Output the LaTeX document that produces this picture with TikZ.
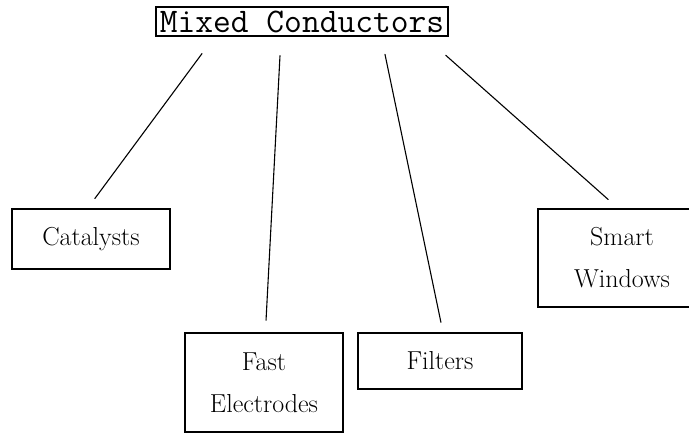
\documentclass[tikz,border=0pt]{standalone}
\usepackage{fontspec}
\usepackage{tikz}

\begin{document}
\begin{tikzpicture}[x=1pt, y=-1pt, line cap=round,
    box/.style={draw, line width=1.6pt, inner sep=0pt, align=center,
                font=\fontsize{26}{42}\selectfont},
    link/.style={line width=1.1pt}]
    \useasboundingbox (0,0) rectangle (689,433);

    % heading
    \node[draw, line width=1.4pt, inner sep=0pt, minimum width=292, minimum height=29,
          font=\ttfamily\fontsize{34.5}{34.5}\selectfont] (mc) at (302,21.5) {Mixed Conductors};

    % applications
    \node[box, minimum width=158, minimum height=60] (cat) at (91,239) {Catalysts};
    \node[box, minimum width=158, minimum height=99] (fast) at (264,382.5) {Fast\\Electrodes};
    \node[box, minimum width=164, minimum height=56] (filt) at (440,361) {Filters};
    \node[box, minimum width=168, minimum height=98] (smart) at (622,258) {Smart\\Windows};

    % branches, left loose at both ends
    \draw[link, shorten <=21pt, shorten >=12pt] ([xshift=-87.5pt]mc.south) -- ([xshift=-3.3pt]cat.north);
    \draw[link, shorten <=19pt, shorten >=12pt] ([xshift=-21pt]mc.south) -- ([xshift=1.4pt]fast.north);
    \draw[link, shorten <=18pt, shorten >=10pt] ([xshift=79.3pt]mc.south) -- ([xshift=3pt]filt.north);
    \draw[link, shorten <=28pt, shorten >=13pt] ([xshift=122.8pt]mc.south) -- ([xshift=-4pt]smart.north);
\end{tikzpicture}
\end{document}
